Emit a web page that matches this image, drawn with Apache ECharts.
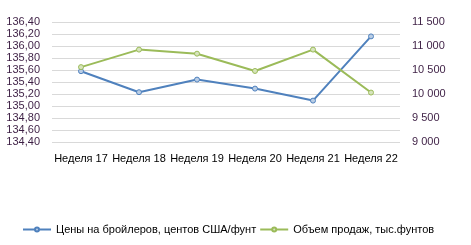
<!DOCTYPE html>
<html><head><meta charset="utf-8">
<script src="https://cdn.jsdelivr.net/npm/echarts@6/dist/echarts.min.js"></script>
<style>html,body{margin:0;padding:0;background:#fff}#c{width:471px;height:245px}</style>
</head><body><div id="c"></div>
<script>
const categories = ['Неделя 17','Неделя 18','Неделя 19','Неделя 20','Неделя 21','Неделя 22'];
const prices = [135.58, 135.23, 135.44, 135.29, 135.09, 136.16];
const sales = [10560, 10925, 10840, 10480, 10925, 10030];
const seriesNames = ['Цены на бройлеров, центов США/фунт', 'Объем продаж, тыс.фунтов'];
const font = 'Liberation Sans, Arial, sans-serif';
const labelColor = '#3d1f44';
const chart = echarts.init(document.getElementById('c'));
chart.setOption({
  animation: false,
  textStyle: {fontFamily: font},
  legend: {
    bottom: 5, left: 17, itemWidth: 28, itemHeight: 5, itemGap: 3,
    textStyle: {fontFamily: font, fontSize: 11, color: '#000'},
    data: seriesNames
  },
  grid: {left: 52, right: 71, top: 22, bottom: 103},
  xAxis: {
    type: 'category', data: categories, boundaryGap: true,
    axisLine: {show: false}, axisTick: {show: false},
    axisLabel: {fontFamily: font, fontSize: 11, color: '#000', margin: 11, interval: 0}
  },
  yAxis: [
    {type: 'value', min: 134.4, max: 136.4, interval: 0.2,
     axisLine: {show: false}, axisTick: {show: false},
     splitLine: {lineStyle: {color: '#d9d9d9', width: 1}},
     axisLabel: {fontFamily: font, fontSize: 11, color: labelColor, margin: 12,
       formatter: v => v.toFixed(2).replace('.', ',')}},
    {type: 'value', min: 9000, max: 11500, interval: 500, position: 'right',
     axisLine: {show: false}, axisTick: {show: false}, splitLine: {show: false},
     axisLabel: {fontFamily: font, fontSize: 11, color: labelColor, margin: 12,
       formatter: v => String(Math.round(v)).replace(/\B(?=(\d{3})+(?!\d))/g, ' ')}}
  ],
  series: [
    {name: seriesNames[0], type: 'line', yAxisIndex: 0, data: prices,
     symbol: 'circle', symbolSize: 5,
     lineStyle: {color: '#4f81bd', width: 2},
     itemStyle: {color: '#b9cde5', borderColor: '#4f81bd', borderWidth: 1}},
    {name: seriesNames[1], type: 'line', yAxisIndex: 1, data: sales,
     symbol: 'circle', symbolSize: 5,
     lineStyle: {color: '#9bbb59', width: 2},
     itemStyle: {color: '#d7e4bd', borderColor: '#9bbb59', borderWidth: 1}}
  ]
});
</script></body></html>
